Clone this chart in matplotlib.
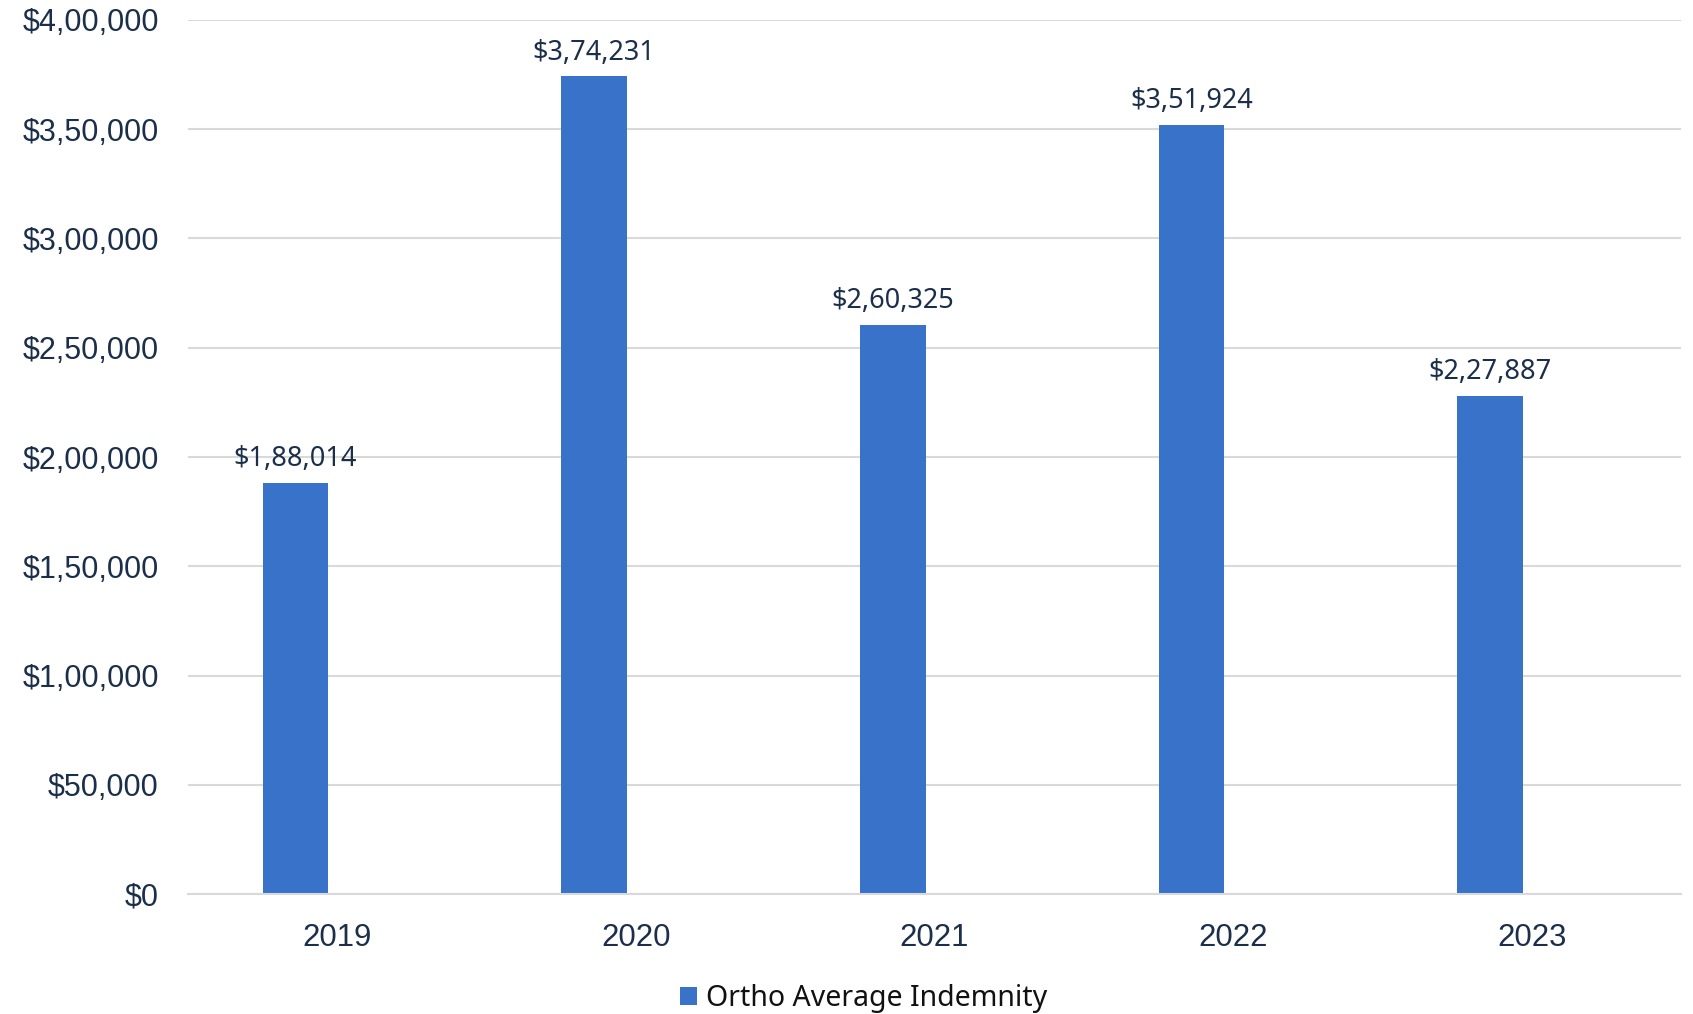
import numpy as np
import matplotlib.pyplot as plt
from matplotlib.ticker import FuncFormatter

years = ['2019', '2020', '2021', '2022', '2023']
indemnity = [188014, 374231, 260325, 351924, 227887]
series_name = 'Ortho Average Indemnity'


def inr(v):
    # indian digit grouping, e.g. 3,74,231
    s = str(int(round(v)))
    if len(s) <= 3:
        return '$' + s
    head, tail = s[:-3], s[-3:]
    parts = []
    while len(head) > 2:
        parts.insert(0, head[-2:])
        head = head[:-2]
    if head:
        parts.insert(0, head)
    return '$' + ','.join(parts) + ',' + tail


navy = '#1b2f4a'
blue = '#3873c9'
grid = '#d9d9d9'

fig = plt.figure(figsize=(16.93, 10.14), dpi=100)
ax = fig.add_axes([0.111, 0.1183, 0.882, 0.862])

x = np.arange(len(years))
bars = ax.bar(x - 0.14, indemnity, width=0.22, color=blue, label=series_name, zorder=3)

for xi, v in zip(x, indemnity):
    ax.annotate(inr(v), (xi - 0.14, v), xytext=(0, 7), textcoords='offset points',
                ha='center', va='bottom', fontsize=19.5, color=navy,
                fontfamily='Noto Sans', zorder=4)

ax.set_xlim(-0.5, len(years) - 0.5)
ax.set_ylim(0, 400000)
ax.set_yticks(np.arange(0, 400001, 50000))
ax.yaxis.set_major_formatter(FuncFormatter(lambda v, p: inr(v)))
ax.set_xticks(x)
ax.set_xticklabels(years)

ax.grid(axis='y', color=grid, linewidth=1.5, zorder=0)
for s in ['top', 'right', 'left']:
    ax.spines[s].set_visible(False)
ax.spines['bottom'].set_color(grid)
ax.spines['bottom'].set_linewidth(1.5)
ax.spines['bottom'].set_zorder(3)

ax.tick_params(axis='y', length=0, pad=21, labelsize=22, labelcolor=navy)
ax.tick_params(axis='x', length=0, pad=21, labelsize=22.4, labelcolor=navy)
for lab in ax.get_xticklabels() + ax.get_yticklabels():
    lab.set_fontfamily('Liberation Sans')

leg = fig.legend(handles=[bars], labels=[series_name], loc='center',
                 bbox_to_anchor=(0.51, 0.0155), frameon=False,
                 prop={'family': 'Noto Sans', 'size': 20.5},
                 handlelength=0.6, handleheight=0.6, handletextpad=0.3)
for t in leg.get_texts():
    t.set_color('#111111')

fig.savefig('out.png', dpi=100)
